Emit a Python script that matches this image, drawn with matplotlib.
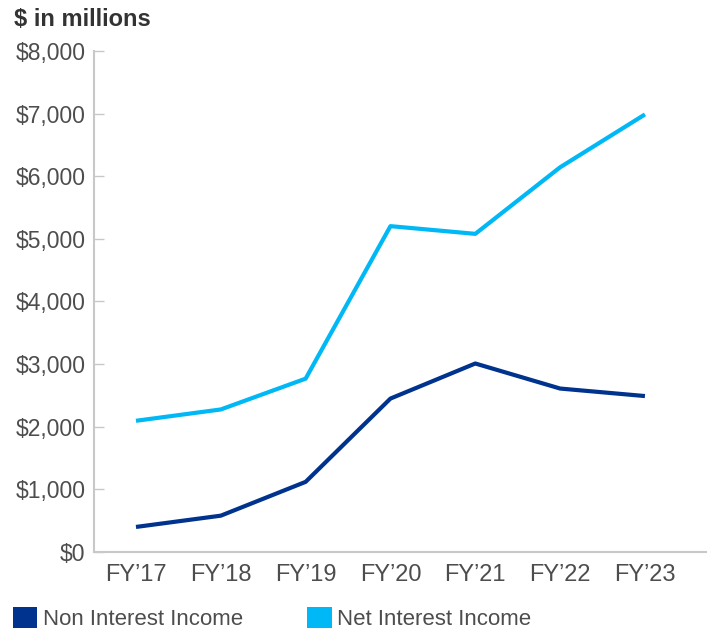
import matplotlib.pyplot as plt
from matplotlib.patches import Patch
from matplotlib.ticker import FuncFormatter

# --- DATA ($ in millions) ---
years = ["FY\u201917", "FY\u201918", "FY\u201919", "FY\u201920", "FY\u201921", "FY\u201922", "FY\u201923"]
net_interest = [2095, 2276, 2768, 5203, 5080, 6143, 6987]
non_interest = [400, 580, 1120, 2450, 3010, 2610, 2490]

DARK_BLUE = "#00338D"
LIGHT_BLUE = "#00B8F5"
TEXT = "#4d4d4d"
SPINE = "#c8c8c8"

plt.rcParams["font.family"] = ["Liberation Sans", "DejaVu Sans"]

fig = plt.figure(figsize=(7.12, 6.31), dpi=100)
ax = fig.add_axes([0.132, 0.1252, 0.8596, 0.794])

x = range(len(years))
ax.plot(x, net_interest, color=LIGHT_BLUE, linewidth=3, solid_capstyle="butt")
ax.plot(x, non_interest, color=DARK_BLUE, linewidth=3, solid_capstyle="butt")

ax.set_xlim(-0.495, 6.72)
ax.set_ylim(0, 8000)
ax.set_yticks(range(0, 8001, 1000))
ax.yaxis.set_major_formatter(FuncFormatter(lambda v, p: f"${v:,.0f}"))
ax.set_xticks(list(x))
ax.set_xticklabels(years)

ax.tick_params(axis="y", direction="in", length=7, width=1, color=SPINE,
               labelsize=16.5, labelcolor=TEXT, pad=6)
ax.tick_params(axis="x", length=0, labelsize=17, labelcolor=TEXT, pad=9)

for side in ["top", "right"]:
    ax.spines[side].set_visible(False)
for side in ["left", "bottom"]:
    ax.spines[side].set_color(SPINE)
    ax.spines[side].set_linewidth(1.5)

fig.text(0.02, 0.969, "$ in millions", fontsize=17, fontweight="bold",
         color="#333333", va="center", ha="left")

handles = [Patch(facecolor=DARK_BLUE, label="Non Interest Income"),
           Patch(facecolor=LIGHT_BLUE, label="Net Interest Income")]
leg = fig.legend(handles=handles, loc="center left", bbox_to_anchor=(0.018, 0.02),
                 ncol=2, frameon=False, fontsize=16, handlelength=1.1, handleheight=1.1,
                 handletextpad=0.25, columnspacing=2.9, borderaxespad=0, borderpad=0)
for t in leg.get_texts():
    t.set_color(TEXT)

plt.savefig("out.png", dpi=100)
